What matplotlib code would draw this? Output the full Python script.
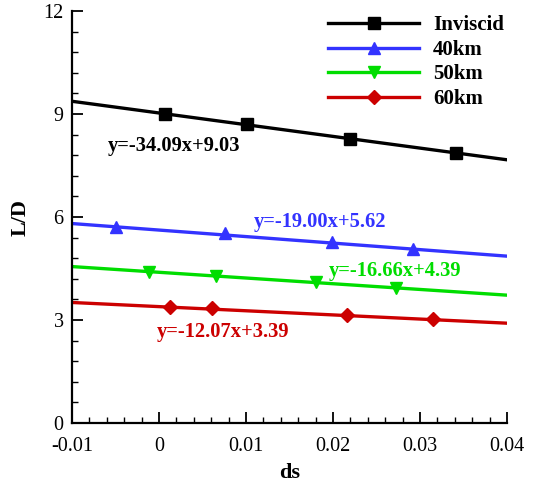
import numpy as np
import matplotlib.pyplot as plt
from matplotlib.ticker import MultipleLocator

# data
series_names = ["Inviscid", "40km", "50km", "60km"]
colors = ["#000000", "#3333ff", "#00dd00", "#cc0000"]
markers = ["s", "^", "v", "D"]

ds_inviscid = [0.0007, 0.0101, 0.0220, 0.0341]
ld_inviscid = [9.00, 8.72, 8.28, 7.87]
ds_40 = [-0.0049, 0.0076, 0.0199, 0.0292]
ld_40 = [5.71, 5.52, 5.28, 5.07]
ds_50 = [-0.0011, 0.0066, 0.0180, 0.0272]
ld_50 = [4.41, 4.29, 4.10, 3.92]
ds_60 = [0.0013, 0.0061, 0.0216, 0.0315]
ld_60 = [3.39, 3.34, 3.16, 3.02]

slopes = [-34.09, -19.00, -16.66, -12.07]
intercepts = [9.03, 5.62, 4.39, 3.39]

# equation label anchors (x, y)
eq_x = [-0.0059, 0.0109, 0.0195, -0.0002]
eq_y = [8.07, 5.86, 4.44, 2.64]

xs_all = [ds_inviscid, ds_40, ds_50, ds_60]
ys_all = [ld_inviscid, ld_40, ld_50, ld_60]

plt.rcParams['font.family'] = ['Liberation Serif', 'DejaVu Serif']

fig = plt.figure(figsize=(5.42, 4.83), dpi=100)
ax = fig.add_axes([0.1328, 0.1242, 0.8026, 0.8530])

xlim = (-0.01, 0.04)
xfit = np.linspace(xlim[0], xlim[1], 50)
for name, c, m, xs, ys, k, b in zip(series_names, colors, markers, xs_all, ys_all, slopes, intercepts):
    ms = 8 if m != 'D' else 7.5
    ax.plot(xfit, k * xfit + b, color=c, lw=2.4, zorder=2)
    ax.plot(xs, ys, ls='none', marker=m, color=c, ms=ms, zorder=3)
    # legend proxy
    ax.plot([], [], color=c, lw=2.4, marker=m, ms=ms, label=name)

for k, b, c, tx, ty in zip(slopes, intercepts, colors, eq_x, eq_y):
    ax.text(tx, ty, f"y={k:.2f}x+{b:.2f}", color=c, fontsize=14.8,
            fontweight='bold', ha='left', va='center')

ax.set_xlim(*xlim)
ax.set_ylim(0, 12)
ax.xaxis.set_minor_locator(MultipleLocator(0.002))
ax.yaxis.set_minor_locator(MultipleLocator(0.6))
ax.set_xticks([-0.01, 0, 0.01, 0.02, 0.03, 0.04])
ax.set_xticklabels(["-0.01", "0", "0.01", "0.02", "0.03", "0.04"])
ax.set_yticks([0, 3, 6, 9, 12])
ax.set_yticklabels(["0", "3", "6", "9", "12"])

for s in ['top', 'right']:
    ax.spines[s].set_visible(False)
for s in ['left', 'bottom']:
    ax.spines[s].set_linewidth(1.6)
ax.tick_params(which='major', direction='in', length=8, width=1.3, labelsize=14.5)
ax.tick_params(which='minor', direction='in', length=4.5, width=1.0)
ax.tick_params(axis='x', which='major', pad=10)
ax.tick_params(axis='y', which='major', pad=6)

ax.set_xlabel("ds", fontsize=16, fontweight='bold', labelpad=5)
ax.set_ylabel("L/D", fontsize=16, fontweight='bold', labelpad=9)

leg = ax.legend(loc='upper right', frameon=False, prop={'size': 15, 'weight': 'bold'},
                handlelength=4.4, handletextpad=0.65, labelspacing=0.22,
                bbox_to_anchor=(1.012, 1.01), borderaxespad=0.0)

fig.savefig("out.png", dpi=100)
